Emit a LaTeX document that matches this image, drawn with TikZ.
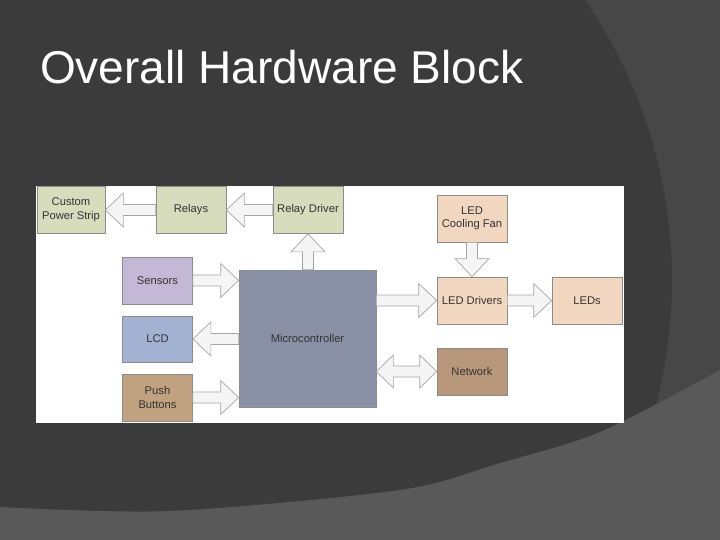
\documentclass[tikz,border=0pt]{standalone}
\usepackage{fontspec}
\setmainfont{Liberation Sans}
\usetikzlibrary{calc}

\definecolor{slidebg}{HTML}{3B3B3B}
\definecolor{slidearc}{HTML}{474747}
\definecolor{slidelow}{HTML}{595959}
\definecolor{relaygreen}{RGB}{214,220,188}
\definecolor{sensorpurple}{RGB}{195,184,213}
\definecolor{lcdblue}{RGB}{163,177,211}
\definecolor{buttontan}{RGB}{193,162,128}
\definecolor{mcugray}{RGB}{138,145,166}
\definecolor{ledpeach}{RGB}{241,214,192}
\definecolor{netbrown}{RGB}{184,151,122}

% fat arrow from #1 to #2
\newcommand{\fatarrow}[2]{%
  \coordinate (fa1) at (#1);
  \coordinate (fa2) at (#2);
  \coordinate (fah) at ($(fa2)!18pt!(fa1)$);
  \draw[fat] ($(fa1)!5.5pt!90:(fa2)$) -- ($(fah)!5.5pt!90:(fa2)$) -- ($(fah)!17pt!90:(fa2)$)
    -- (fa2) -- ($(fah)!17pt!-90:(fa2)$) -- ($(fah)!5.5pt!-90:(fa2)$) -- ($(fa1)!5.5pt!-90:(fa2)$) -- cycle;}
% fat arrow with two heads
\newcommand{\fatboth}[2]{%
  \coordinate (fa1) at (#1);
  \coordinate (fa2) at (#2);
  \coordinate (fah) at ($(fa2)!17pt!(fa1)$);
  \coordinate (fat) at ($(fa1)!17pt!(fa2)$);
  \draw[fat] (fa1) -- ($(fat)!16.5pt!90:(fa2)$) -- ($(fat)!5.5pt!90:(fa2)$) -- ($(fah)!5.5pt!90:(fa2)$)
    -- ($(fah)!16.5pt!90:(fa2)$) -- (fa2) -- ($(fah)!16.5pt!-90:(fa2)$) -- ($(fah)!5.5pt!-90:(fa2)$)
    -- ($(fat)!5.5pt!-90:(fa2)$) -- ($(fat)!16.5pt!-90:(fa2)$) -- cycle;}

\begin{document}
\begin{tikzpicture}[x=1pt,y=-1pt,
    block/.style={draw=black!45,line width=0.7pt,minimum width=70pt,minimum height=47pt,
      align=center,inner sep=1pt,text=black!80,font=\fontsize{11.2}{13.5}\selectfont},
    fat/.style={draw=black!35,fill=black!4,line width=0.7pt,line join=miter}]
    \useasboundingbox (0,0) rectangle (720,540);
    % slide background
    \fill[slidebg] (0,0) rectangle (720,540);
    \fill[slidearc,even odd rule] (0,0) rectangle (720,540) (178,280) circle (494);
    \fill[slidelow] plot[smooth] coordinates {(0,507) (170,511) (400,490) (500,463) (600,432) (720,370)}
      -- (720,540) -- (0,540) -- cycle;
    \node[anchor=base west,text=white,font=\fontsize{46}{50}\selectfont,inner sep=0pt] (title) at (40,84) {Overall Hardware Block};
    \fill[white] (36,186) rectangle (624,423);

    \node[block,fill=relaygreen,minimum width=68pt] (strip) at (71,210) {Custom\\Power Strip};
    \node[block,fill=relaygreen] (relays) at (191,210) {Relays};
    \node[block,fill=relaygreen] (reldrv) at (308,210) {Relay Driver};
    \node[block,fill=sensorpurple] (sensors) at (157.5,280.5) {Sensors};
    \node[block,fill=lcdblue,minimum height=46pt] (lcd) at (157.5,339) {LCD};
    \node[block,fill=buttontan] (push) at (157.5,397.5) {Push\\Buttons};
    \node[block,fill=mcugray,minimum width=137pt,minimum height=137pt] (mcu) at (307.5,338.5) {Microcontroller};
    \node[block,fill=ledpeach] (fan) at (472,218.5) {LED\\Cooling Fan};
    \node[block,fill=ledpeach] (leddrv) at (472,300.5) {LED Drivers};
    \node[block,fill=ledpeach] (leds) at (587,300.5) {LEDs};
    \node[block,fill=netbrown] (network) at (472,371.5) {Network};

    \fatarrow{relays.west}{strip.east}
    \fatarrow{reldrv.west}{relays.east}
    \fatarrow{reldrv.south |- mcu.north}{reldrv.south}
    \fatarrow{sensors.east}{mcu.west |- sensors.east}
    \fatarrow{mcu.west |- lcd.east}{lcd.east}
    \fatarrow{push.east}{mcu.west |- push.east}
    \fatarrow{mcu.east |- leddrv.west}{leddrv.west}
    \fatarrow{leddrv.east}{leds.west}
    \fatarrow{fan.south}{leddrv.north}
    \fatboth{mcu.east |- network.west}{network.west}
\end{tikzpicture}
\end{document}
